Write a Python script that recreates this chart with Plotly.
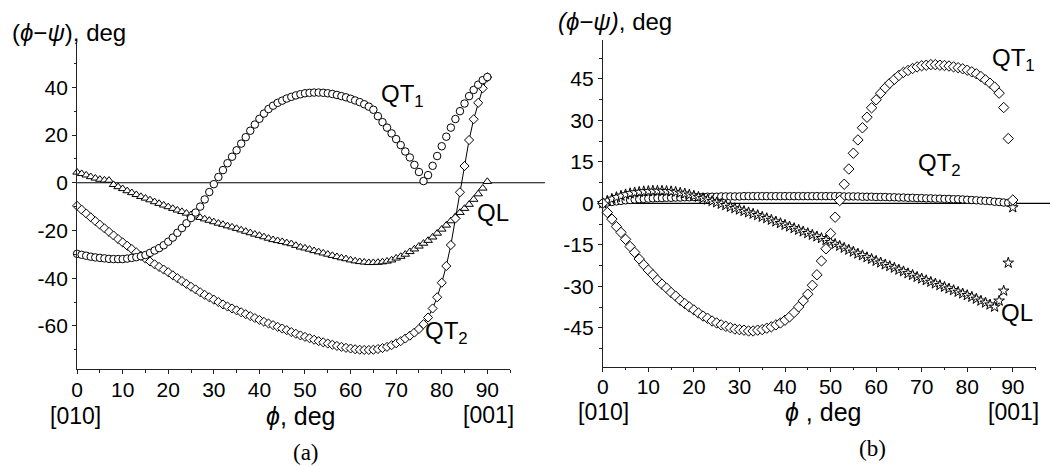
import plotly.graph_objects as go

# ---------------- data ----------------
phi = list(range(0, 91))

# panel (a)
a_qt1 = [-29.8, -30.2, -30.6, -31.0, -31.3, -31.5, -31.7, -31.9, -32.0, -32.0,
         -32.0, -31.8, -31.5, -31.2, -30.8, -30.3, -29.4, -28.4, -27.4, -26.2,
         -24.7, -23.0, -21.0, -19.0, -17.0, -14.8, -12.5, -10.0, -7.0, -3.9,
         -0.6, 2.4, 5.3, 8.2, 10.9, 13.6, 16.4, 19.1, 21.8, 24.4,
         26.8, 29.0, 30.9, 32.3, 33.5, 34.4, 35.3, 36.0, 36.6, 37.1,
         37.5, 37.7, 37.8, 37.8, 37.7, 37.5, 37.2, 36.8, 36.3, 35.8,
         35.2, 34.5, 33.8, 32.9, 31.9, 30.6, 27.9, 25.4, 23.1, 20.7,
         18.3, 15.8, 13.1, 10.6, 7.5, 4.5, 0.7, 3.2, 7.1, 11.2,
         15.3, 19.3, 23.1, 26.7, 30.0, 33.2, 36.3, 38.9, 41.1, 43.0, 44.3]

a_qt2 = [-9.7, -11.3, -12.9, -14.5, -16.1, -17.6, -19.1, -20.6, -22.1, -23.6,
         -25.0, -26.4, -27.8, -29.2, -30.6, -31.8, -33.0, -34.2, -35.3, -36.4,
         -37.5, -38.8, -40.0, -41.2, -42.4, -43.6, -44.7, -45.9, -47.0, -48.0,
         -49.0, -50.0, -51.0, -51.9, -52.7, -53.5, -54.3, -55.1, -55.9, -56.7,
         -57.5, -58.3, -59.0, -59.7, -60.4, -61.1, -61.8, -62.6, -63.3, -64.0,
         -64.6, -65.2, -65.8, -66.4, -66.9, -67.4, -67.9, -68.4, -68.8, -69.2,
         -69.5, -69.8, -70.0, -70.1, -70.1, -70.0, -69.7, -69.3, -68.8, -68.1,
         -67.3, -66.4, -65.3, -64.1, -62.8, -61.3, -59.3, -56.5, -52.7, -48.0,
         -41.9, -34.9, -26.1, -15.0, -4.0, 7.0, 17.9, 26.6, 33.5, 39.6, 44.2]

a_ql = [4.4, 3.8, 3.2, 2.5, 1.9, 1.4, 1.1, 1.0, -0.8, -1.7,
        -2.5, -3.4, -4.2, -5.0, -5.8, -6.5, -7.2, -8.0, -8.7, -9.4,
        -10.1, -10.8, -11.5, -12.1, -12.8, -13.4, -14.0, -14.6, -15.2, -15.8,
        -16.4, -17.0, -17.5, -18.1, -18.6, -19.2, -19.8, -20.4, -21.0, -21.6,
        -22.1, -22.7, -23.3, -23.9, -24.3, -24.7, -25.2, -25.6, -26.3, -27.0,
        -27.4, -27.9, -28.5, -29.0, -29.5, -30.0, -30.5, -31.0, -31.5, -31.9,
        -32.4, -32.8, -33.1, -33.3, -33.5, -33.5, -33.4, -33.2, -32.9, -32.4,
        -31.6, -30.9, -30.0, -28.9, -27.8, -26.6, -25.4, -24.2, -22.8, -21.2,
        -19.5, -17.8, -16.0, -14.2, -12.5, -10.8, -9.1, -7.0, -4.7, -2.3, 0.5]

# panel (b)
b_qt1 = [0.0, -3.3, -5.7, -8.4, -10.5, -13.0, -15.6, -17.7, -20.1, -22.2,
         -24.1, -25.8, -27.7, -29.2, -30.6, -32.2, -33.5, -35.0, -36.2, -37.4,
         -38.5, -39.6, -40.7, -41.5, -42.5, -43.2, -43.9, -44.4, -44.9, -45.4,
         -45.6, -45.8, -46.1, -46.1, -45.8, -45.6, -45.1, -44.6, -43.9, -43.2,
         -42.2, -41.0, -39.4, -37.4, -35.2, -32.8, -29.6, -25.8, -20.8, -16.4,
         -10.9, -5.0, 1.0, 6.9, 12.4, 18.1, 22.9, 27.3, 31.1, 34.5,
         37.4, 39.8, 41.7, 43.4, 44.8, 46.2, 47.3, 48.0, 48.7, 49.3,
         49.7, 49.9, 50.1, 50.1, 49.9, 49.8, 49.6, 49.3, 49.0, 48.6,
         48.1, 47.5, 46.8, 45.8, 44.6, 43.4, 42.0, 39.8, 34.6, 23.4, 1.2]

b_qt2 = [0.0, 0.3, 0.5, 0.7, 0.9, 1.1, 1.2, 1.4, 1.5, 1.6,
         1.7, 1.8, 1.9, 1.9, 2.0, 2.0, 2.1, 2.1, 2.2, 2.2,
         2.3, 2.3, 2.3, 2.4, 2.4, 2.4, 2.5, 2.5, 2.5, 2.5,
         2.5, 2.6, 2.6, 2.6, 2.6, 2.6, 2.6, 2.6, 2.6, 2.6,
         2.6, 2.6, 2.6, 2.6, 2.6, 2.6, 2.6, 2.6, 2.6, 2.6,
         2.6, 2.6, 2.6, 2.5, 2.5, 2.5, 2.5, 2.4, 2.4, 2.4,
         2.3, 2.3, 2.3, 2.2, 2.2, 2.1, 2.1, 2.0, 2.0, 1.9,
         1.9, 1.8, 1.8, 1.7, 1.7, 1.6, 1.6, 1.5, 1.5, 1.4,
         1.3, 1.2, 1.1, 1.0, 0.9, 0.8, 0.6, 0.5, 0.3, 0.2, 0.0]

b_ql = [0.0, 0.9, 1.6, 2.2, 2.7, 3.2, 3.6, 3.9, 4.1, 4.3,
        4.4, 4.5, 4.5, 4.5, 4.4, 4.3, 4.1, 3.8, 3.5, 3.1,
        2.7, 2.3, 1.8, 1.3, 0.8, 0.3, -0.2, -0.7, -1.3, -1.8,
        -2.3, -2.8, -3.3, -3.8, -4.3, -4.9, -5.4, -6.0, -6.6, -7.2,
        -7.8, -8.4, -9.0, -9.6, -10.2, -10.8, -11.4, -12.0, -12.6, -13.3,
        -14.0, -14.7, -15.4, -16.1, -16.8, -17.5, -18.2, -18.8, -19.5, -20.1,
        -20.8, -21.4, -22.1, -22.7, -23.3, -24.0, -24.6, -25.3, -25.9, -26.6,
        -27.2, -27.8, -28.4, -29.0, -29.6, -30.2, -30.8, -31.4, -32.0, -32.6,
        -33.2, -33.8, -34.5, -35.2, -35.9, -36.6, -37.4, -35.2, -31.6, -21.5, -1.5]

# ticks
x_ticks = [0, 10, 20, 30, 40, 50, 60, 70, 80, 90]
x_tick_labels = ["0", "10", "20", "30", "40", "50", "60", "70", "80", "90"]
x_minor = [5, 15, 25, 35, 45, 55, 65, 75, 85, 95]
ya_ticks = [-60, -40, -20, 0, 20, 40]
ya_tick_labels = ["-60", "-40", "-20", "0", "20", "40"]
ya_minor = [-70, -50, -30, -10, 10, 30, 50]
yb_ticks = [-45, -30, -15, 0, 15, 30, 45]
yb_tick_labels = ["-45", "-30", "-15", "0", "15", "30", "45"]
yb_minor = [-52.5, -37.5, -22.5, -7.5, 7.5, 22.5, 37.5, 52.5]

W, H = 1050, 466
SANS = "Liberation Sans, Arial, sans-serif"
SERIF = "Liberation Serif, Times New Roman, serif"

fig = go.Figure()


def add(xa, ya, y, symbol, size, mode="markers"):
    fig.add_trace(go.Scatter(
        x=phi, y=y, xaxis=xa, yaxis=ya, mode=mode,
        marker=dict(symbol=symbol, size=size, color="white",
                    line=dict(color="black", width=1)),
        line=dict(color="black", width=1),
        showlegend=False, hoverinfo="skip", cliponaxis=False))


add("x", "y", a_ql, "triangle-up", 7.5)
add("x", "y", a_qt2, "diamond", 7, mode="lines+markers")
add("x", "y", a_qt1, "circle", 7.5)

add("x2", "y2", b_qt2, "circle", 7.5)
add("x2", "y2", b_ql, "star", 8)
add("x2", "y2", b_qt1, "diamond", 8)

axis_common = dict(showgrid=False, zeroline=False, showline=True,
                   linecolor="#222", linewidth=1, ticks="outside", ticklen=4,
                   tickwidth=1, tickcolor="#222", mirror=False,
                   tickfont=dict(family=SANS, size=21, color="black"))

fig.update_layout(
    width=W, height=H, margin=dict(l=0, r=0, t=0, b=0),
    paper_bgcolor="white", plot_bgcolor="white",
    xaxis=dict(domain=[71.5 / W, 507 / W], anchor="y", range=[0, 95],
               tickmode="array", tickvals=x_ticks, ticktext=x_tick_labels,
               ticklabelstandoff=-3,
               minor=dict(tickmode="array", tickvals=x_minor, ticks="outside",
                          ticklen=2.5, tickcolor="#222"),
               **axis_common),
    yaxis=dict(domain=[1 - 369.3 / H, 1 - 42.7 / H], anchor="x", range=[-78.2, 58.7],
               tickmode="array", tickvals=ya_ticks, ticktext=ya_tick_labels,
               minor=dict(tickmode="array", tickvals=ya_minor, ticks="outside",
                          ticklen=2.5, tickcolor="#222"),
               **axis_common),
    xaxis2=dict(domain=[600.2 / W, 1035.5 / W], anchor="y2", range=[0, 95],
                tickmode="array", tickvals=x_ticks, ticktext=x_tick_labels,
                ticklabelstandoff=-3,
                minor=dict(tickmode="array", tickvals=x_minor, ticks="outside",
                           ticklen=2.5, tickcolor="#222"),
                **axis_common),
    yaxis2=dict(domain=[1 - 366.7 / H, 1 - 40 / H], anchor="x2", range=[-59, 59],
                tickmode="array", tickvals=yb_ticks, ticktext=yb_tick_labels,
                minor=dict(tickmode="array", tickvals=yb_minor, ticks="outside",
                           ticklen=2.5, tickcolor="#222"),
                **axis_common),
)

# zero reference lines
fig.add_shape(type="line", xref="paper", yref="y", x0=71.5 / W, x1=542 / W,
              y0=0, y1=0, line=dict(color="black", width=1.2), layer="below")
fig.add_shape(type="line", xref="paper", yref="y2", x0=600.2 / W, x1=1.0,
              y0=0, y1=0, line=dict(color="black", width=1.2), layer="below")


def note(text, px, py, size=20, family=SANS, xanchor="center"):
    fig.add_annotation(text=text, x=px / W, y=1 - py / H, xref="paper", yref="paper",
                       xanchor=xanchor, yanchor="middle", showarrow=False,
                       borderpad=0,
                       font=dict(family=family, size=size, color="black"))


# axis titles and labels
note("(<i>ϕ</i>−<i>ψ</i>), deg", 5, 32, size=24, xanchor="left")
note("<i>(ϕ−ψ)</i>, deg", 554, 22, size=24, xanchor="left")
note("<i>ϕ</i>, deg", 297, 416, size=25)
note("<i>ϕ</i> , deg", 822, 412, size=25)
note("[010]", 70, 416, size=23)
note("[001]", 485, 415, size=23)
note("[010]", 601, 412, size=23)
note("[001]", 1013, 412, size=23)
note("(a)", 302, 452, size=23, family=SERIF)
note("(b)", 871, 448, size=23, family=SERIF)

# curve labels
note("QT<sub>1</sub>", 376, 96, size=24, xanchor="left")
note("QT<sub>2</sub>", 420, 332, size=24, xanchor="left")
note("QL", 473, 212, size=24, xanchor="left")
note("QT<sub>1</sub>", 991, 60, size=24, xanchor="left")
note("QT<sub>2</sub>", 916, 165, size=24, xanchor="left")
note("QL", 1000, 312, size=24, xanchor="left")

fig.write_html("out.html", config={"displayModeBar": False},
               post_script="document.body.style.margin='0';")
